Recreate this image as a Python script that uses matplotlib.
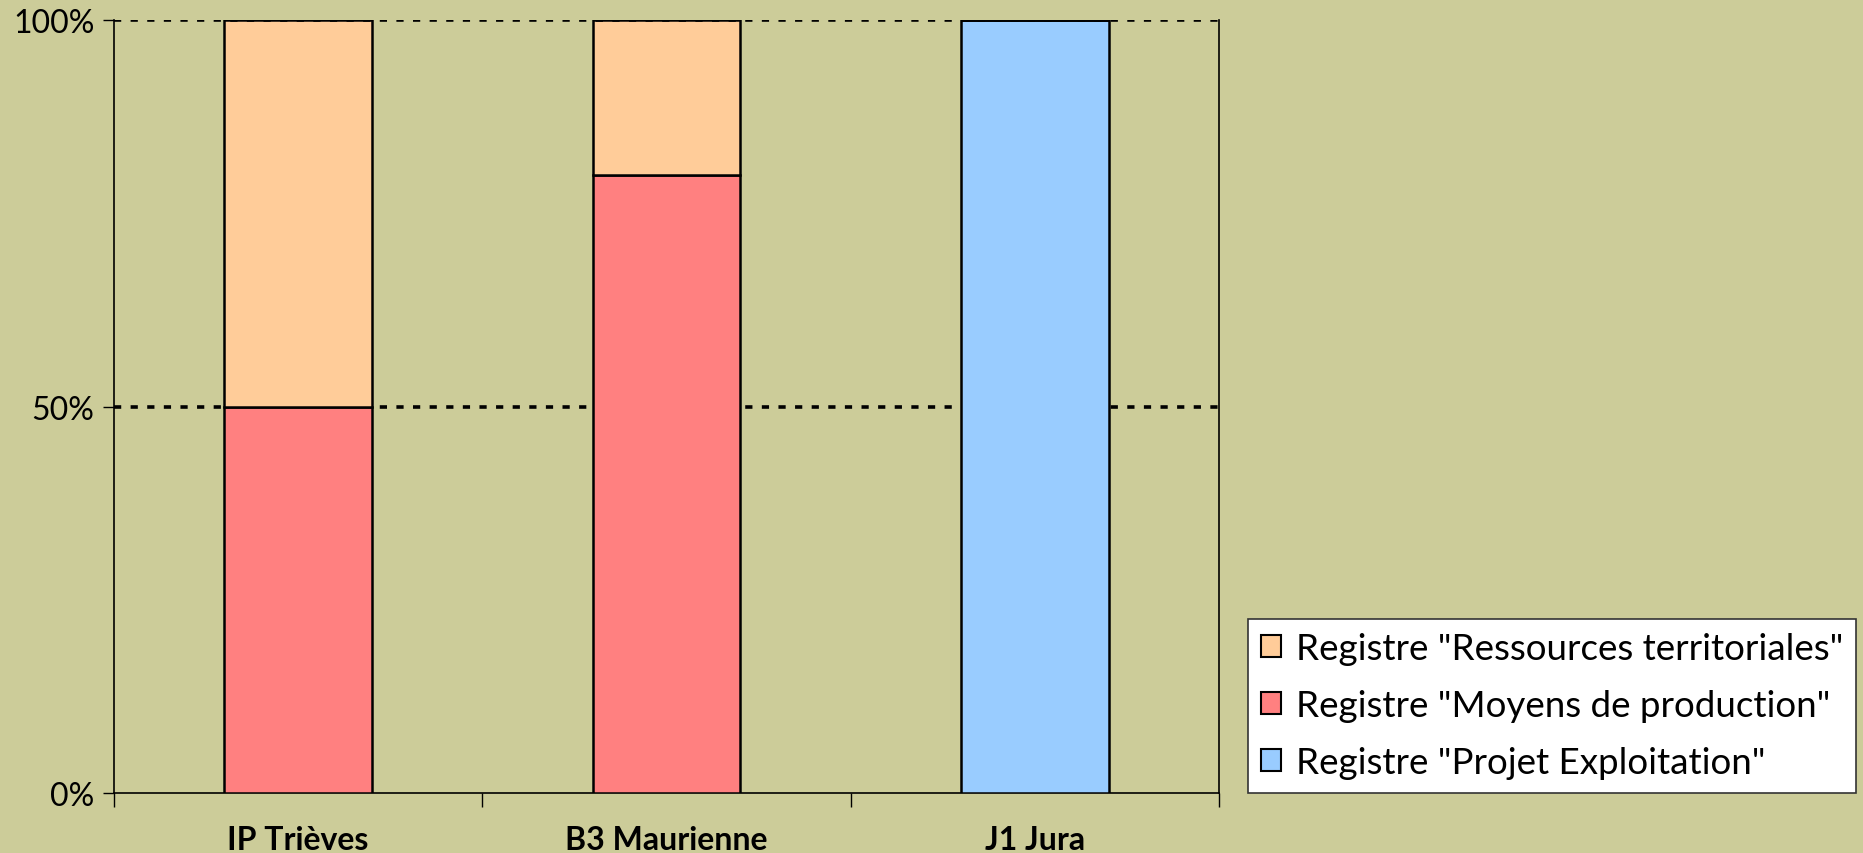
import matplotlib
matplotlib.use("Agg")
import matplotlib.pyplot as plt
import numpy as np
from matplotlib.patches import Patch

categories = ["IP Trièves", "B3 Maurienne", "J1 Jura"]
projet = [0, 0, 100]
moyens = [50, 80, 0]
ressources = [50, 20, 0]
yticks = [0, 50, 100]
ytick_labels = ["0%", "50%", "100%"]
labels = ['Registre "Ressources territoriales"',
          'Registre "Moyens de production"',
          'Registre "Projet Exploitation"']

bg = "#CCCC99"
c_res = "#FFCC99"
c_moy = "#FF8080"
c_proj = "#99CCFF"

plt.rcParams['font.family'] = ['Lato', 'DejaVu Sans']

fig = plt.figure(figsize=(18.63, 8.54), dpi=100, facecolor=bg)
ax = fig.add_axes([114/1863, 1-793.6/854, (1219-114)/1863, (793.6-21.4)/854])
ax.set_facecolor(bg)

x = np.arange(len(categories))
w = 0.40
b1 = np.array(projet)
b2 = b1 + np.array(moyens)
ax.bar(x, projet, w, color=c_proj, edgecolor="black", lw=1.8, zorder=3)
ax.bar(x, moyens, w, bottom=b1, color=c_moy, edgecolor="black", lw=1.8, zorder=3)
ax.bar(x, ressources, w, bottom=b2, color=c_res, edgecolor="black", lw=1.8, zorder=3)

ax.set_xlim(-0.5, len(categories) - 0.5)
ax.set_ylim(0, 100)

for yv in [50, 100]:
    ax.axhline(yv, color="black", lw=2.6, ls=(0, (2.0, 2.6)), zorder=4 if yv == 100 else 1)

ax.set_yticks(yticks)
ax.set_yticklabels(ytick_labels, fontsize=23)
ax.tick_params(axis='y', length=8, width=1, direction='out', pad=6)

ax.set_xticks(x)
ax.set_xticklabels(categories, fontsize=23, fontweight='bold')
ax.tick_params(axis='x', which='major', length=0, pad=23)
ax.set_xticks(np.arange(-0.5, len(categories) + 0.5, 1.0), minor=True)
ax.tick_params(axis='x', which='minor', length=10, width=1, direction='out')

for s in ['left', 'right', 'bottom']:
    ax.spines[s].set_color("black")
    ax.spines[s].set_linewidth(1.2)
ax.spines['top'].set_visible(False)

handles = [Patch(facecolor=c_res, edgecolor="black", lw=1.5),
           Patch(facecolor=c_moy, edgecolor="black", lw=1.5),
           Patch(facecolor=c_proj, edgecolor="black", lw=1.5)]
leg = fig.legend(handles, labels, loc='lower left',
                 bbox_to_anchor=(1247.6/1863, 1-793.6/854),
                 fontsize=26.5, frameon=True, fancybox=False, framealpha=1,
                 handlelength=0.55, handleheight=0.55, handletextpad=0.4,
                 labelspacing=0.66, borderpad=0.36, borderaxespad=0)
leg.get_frame().set_edgecolor("#333333")
leg.get_frame().set_linewidth(1.2)
leg.get_frame().set_facecolor("white")

fig.savefig("out.png", dpi=100, facecolor=bg)
